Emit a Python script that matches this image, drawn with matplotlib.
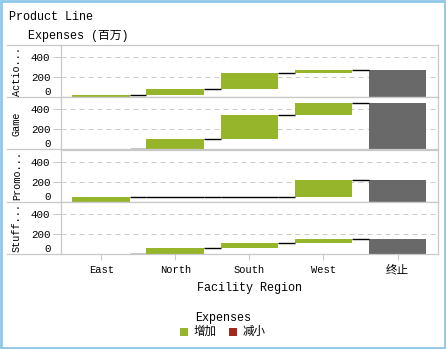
import matplotlib.pyplot as plt
from matplotlib.lines import Line2D
from matplotlib.patches import Rectangle

plt.rcParams['font.family'] = ['Liberation Mono', 'Noto Sans CJK SC']

# Expenses (百万) by product line and facility region
product_lines = ["Actio...", "Game", "Promo...", "Stuff..."]
regions = ["East", "North", "South", "West"]
total_label = "终止"
expenses = {
    "Actio...": [25, 60, 160, 25],
    "Game": [3, 102, 240, 120],
    "Promo...": [45, 0, 0, 168],
    "Stuff...": [3, 60, 42, 48],
}
yticks = [0, 200, 400]

up_color = "#97b52b"
down_color = "#a3291a"
total_color = "#696969"
frame_color = "#c8c8c8"

W, H = 446, 349
fig = plt.figure(figsize=(W / 100, H / 100), dpi=100)


def fx(px):
    return px / W


def fy(py):
    return 1 - py / H


left, right = 61.3, 438.3
top, row_h = 45, 52.25
bar_w = 0.78

for i, line in enumerate(product_lines):
    y0 = top + i * row_h
    ax = fig.add_axes([fx(left), fy(y0 + row_h), (right - left) / W, row_h / H])
    vals = expenses[line]
    total = sum(vals)

    cum = 0
    levels = []
    for j, v in enumerate(vals):
        color = up_color if v >= 0 else down_color
        if v != 0:
            ax.bar(j, v, bottom=cum, width=bar_w, color=color, zorder=2)
        cum += v
        levels.append(cum)
        if v == 0:
            ax.hlines(cum, j - bar_w / 2, j + bar_w / 2, color="black", lw=1, zorder=3)
    ax.bar(len(vals), total, width=bar_w, color=total_color, zorder=2)

    # step connectors between consecutive bars
    for j, lv in enumerate(levels):
        ax.hlines(lv, j + bar_w / 2, j + 1 - bar_w / 2, color="black", lw=1, zorder=3)

    ax.set_xlim(-0.54, 4.55)
    ax.set_ylim(0, 520)
    ax.set_yticks(yticks)
    ax.set_yticklabels([str(t) for t in yticks], fontsize=7.8)
    ax.get_yticklabels()[0].set_verticalalignment("bottom")
    ax.yaxis.grid(True, color="#cccccc", lw=0.72, linestyle=(0, (5, 4)))
    ax.set_axisbelow(True)
    ax.tick_params(axis="y", length=5.8, width=0.72, color=frame_color, pad=2)
    for s in ax.spines.values():
        s.set_color(frame_color)
        s.set_linewidth(0.9)

    ax.set_xticks(range(len(regions) + 1))
    if i == len(product_lines) - 1:
        ax.set_xticklabels(regions + [total_label], fontsize=7.5)
        ax.get_xticklabels()[-1].set_fontsize(8.3)
        ax.tick_params(axis="x", length=4.3, width=0.72, color=frame_color, pad=3.5)
        ax.set_xlabel("Facility Region", fontsize=8.5, labelpad=4)
    else:
        ax.tick_params(axis="x", bottom=False, labelbottom=False)

    fig.text(fx(17), fy(y0 + row_h / 2), line, rotation=90, ha="center",
             va="center", fontsize=7.3)

# row separators reaching into the label column
for k in range(len(product_lines) + 1):
    yy = fy(top + k * row_h)
    fig.add_artist(Line2D([fx(7), fx(left)], [yy, yy], color=frame_color, lw=0.9))

fig.text(fx(9), fy(17.3), "Product Line", ha="left", va="center", fontsize=8.5)
fig.text(fx(28), fy(36), "Expenses (百万)", ha="left", va="center", fontsize=8.5)

# legend
fig.text(fx(223), fy(317.7), "Expenses", ha="center", va="center", fontsize=8.5)
legend_items = [("增加", up_color, 180), ("减小", down_color, 229)]
for lab, col, xpx in legend_items:
    fig.add_artist(Rectangle((fx(xpx), fy(336)), 8.3 / W, 8.3 / H,
                             transform=fig.transFigure, color=col, lw=0))
    fig.text(fx(xpx + 14), fy(332), lab, ha="left", va="center", fontsize=8.3)

# outer frame
fig.add_artist(Rectangle((fx(1.2), fy(347.8)), (W - 2.4) / W, (H - 2.4) / H,
                         transform=fig.transFigure, fill=False,
                         edgecolor="#8ec8ea", lw=2))

fig.savefig("out.png", dpi=100)
